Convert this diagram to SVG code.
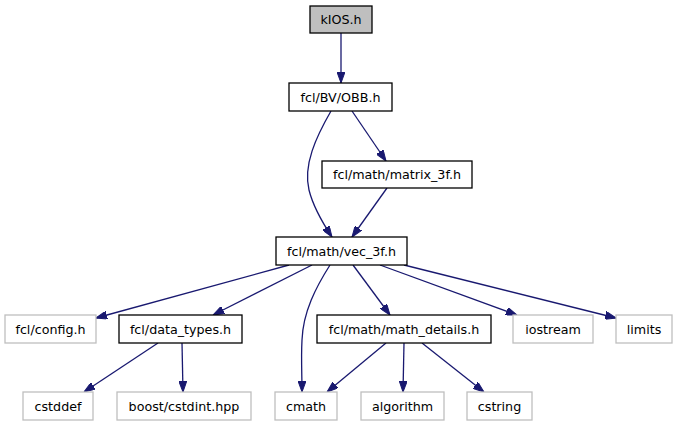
<svg xmlns="http://www.w3.org/2000/svg" width="677" height="427" viewBox="0 0 677 427">
<style>
.n rect{fill:#ffffff;stroke:#000000;stroke-width:1.3}
.g rect{fill:#ffffff;stroke:#bfbfbf;stroke-width:1.3}
.root rect{fill:#bfbfbf;stroke:#000000;stroke-width:1.3}
text{font-family:"DejaVu Sans","Bitstream Vera Sans",sans-serif;font-size:12.7px;text-anchor:middle;fill:#000000}
#edges path{fill:none;stroke:#191970;stroke-width:1.3;marker-end:url(#ah)}
</style>
<defs>
<marker id="ah" markerUnits="userSpaceOnUse" viewBox="0 0 11 8" refX="11" refY="4" markerWidth="11" markerHeight="8" orient="auto">
<path d="M0,0 L11,4 L0,8 z" fill="#191970" stroke="#191970" stroke-width="1"/>
</marker>
</defs>
<rect width="677" height="427" fill="#ffffff"/>
<g id="edges">
<path d="M341,33 L341,83"/>
<path d="M352,111 L386,161"/>
<path d="M331,111 C316,137 303,165 309,190 C313,206 322,222 332,237"/>
<path d="M387,188 L352,237"/>
<path d="M289,265 L96,318"/>
<path d="M312,265 L213,315"/>
<path d="M330,265 C316,287 303,312 302,340 C301,358 302,375 302,392"/>
<path d="M353,265 L390,315"/>
<path d="M380,265 L517,315"/>
<path d="M404,265 L616,318"/>
<path d="M158,343 L84,392"/>
<path d="M182,343 L183,392"/>
<path d="M386,343 L327,392"/>
<path d="M404,343 L403,392"/>
<path d="M422,343 L484,392"/>
</g>
<g id="kIOS" class="root"><rect x="310" y="6" width="62" height="27"/><text x="341" y="24">kIOS.h</text></g>
<g id="OBB" class="n"><rect x="289" y="83" width="103" height="28"/><text x="340.5" y="101.5">fcl/BV/OBB.h</text></g>
<g id="matrix_3f" class="n"><rect x="322" y="161" width="150" height="27"/><text x="397" y="179">fcl/math/matrix_3f.h</text></g>
<g id="vec_3f" class="n"><rect x="276" y="237" width="131" height="28"/><text x="341.5" y="255.5">fcl/math/vec_3f.h</text></g>
<g id="config" class="g"><rect x="5" y="315" width="91" height="28"/><text x="50.5" y="333.5">fcl/config.h</text></g>
<g id="data_types" class="n"><rect x="119" y="315" width="123" height="28"/><text x="180.5" y="333.5">fcl/data_types.h</text></g>
<g id="math_details" class="n"><rect x="317" y="315" width="174" height="28"/><text x="404" y="333.5">fcl/math/math_details.h</text></g>
<g id="iostream" class="g"><rect x="513" y="315" width="80" height="28"/><text x="553" y="333.5">iostream</text></g>
<g id="limits" class="g"><rect x="616" y="315" width="56" height="28"/><text x="644" y="333.5">limits</text></g>
<g id="cstddef" class="g"><rect x="23" y="392" width="70" height="28"/><text x="58" y="410.5">cstddef</text></g>
<g id="boost_cstdint" class="g"><rect x="117" y="392" width="134" height="28"/><text x="184" y="410.5">boost/cstdint.hpp</text></g>
<g id="cmath" class="g"><rect x="275" y="392" width="62" height="28"/><text x="306" y="410.5">cmath</text></g>
<g id="algorithm" class="g"><rect x="361" y="392" width="83" height="28"/><text x="402.5" y="410.5">algorithm</text></g>
<g id="cstring" class="g"><rect x="467" y="392" width="65" height="28"/><text x="499.5" y="410.5">cstring</text></g>
</svg>
